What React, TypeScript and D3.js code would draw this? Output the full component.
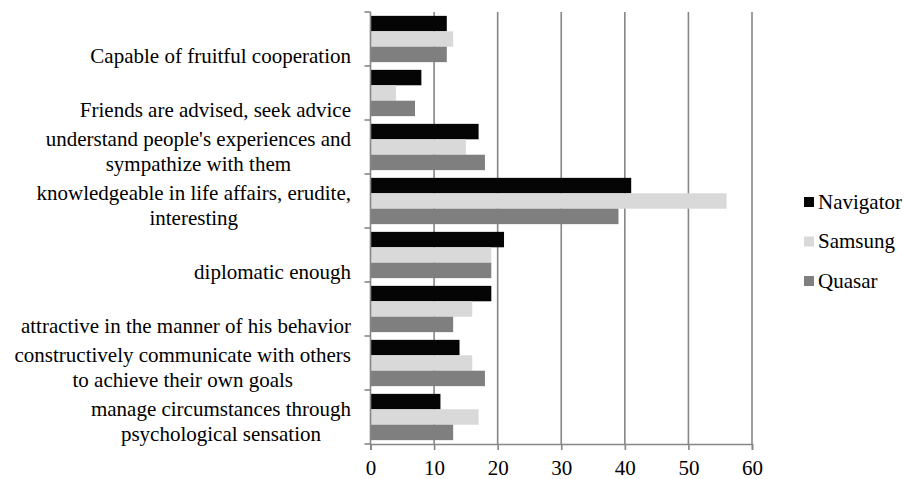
import React, { useEffect, useRef } from 'react';
import * as d3 from 'd3';

// categories top to bottom, each entry is the wrapped lines
const categories = [
  ['Capable of fruitful cooperation'],
  ['Friends are advised, seek advice'],
  ["understand people's experiences and", 'sympathize with them'],
  ['knowledgeable in life affairs, erudite,', 'interesting'],
  ['diplomatic enough'],
  ['attractive in the manner of his behavior'],
  ['constructively communicate with others', 'to achieve their own goals'],
  ['manage circumstances through', 'psychological sensation'],
];
const seriesNames = ['Navigator', 'Samsung', 'Quasar'];
const navigator = [12, 8, 17, 41, 21, 19, 14, 11];
const samsung = [13, 4, 15, 56, 19, 16, 16, 17];
const quasar = [12, 7, 18, 39, 19, 13, 18, 13];
const xTicks = [0, 10, 20, 30, 40, 50, 60];
const colors = ['#050505', '#d9d9d9', '#7f7f7f'];

const App = () => {
  const svgRef = useRef<SVGSVGElement>(null);

  useEffect(() => {
    const W = 905, H = 479;
    const left = 370.5, right = 752, top = 12, bottom = 444;
    const font = '"Liberation Serif"';
    const axisColor = '#868686';

    const svg = d3.select(svgRef.current)
      .attr('width', W)
      .attr('height', H);
    svg.selectAll('*').remove();

    const x = d3.scaleLinear().domain([0, 60]).range([left, right]);
    const y = d3.scaleBand<number>()
      .domain(d3.range(categories.length))
      .range([top, bottom]);
    const series = [navigator, samsung, quasar];
    const inner = d3.scaleBand<number>()
      .domain([0, 1, 2])
      .range([0, y.bandwidth()])
      .paddingOuter(0.25);

    // gridlines
    svg.append('g').selectAll('line')
      .data(xTicks.slice(1))
      .enter().append('line')
      .attr('x1', d => x(d)).attr('x2', d => x(d))
      .attr('y1', top).attr('y2', bottom)
      .attr('stroke', axisColor).attr('stroke-width', 1.6);

    // bars
    series.forEach((vals, si) => {
      svg.append('g').selectAll('rect')
        .data(vals)
        .enter().append('rect')
        .attr('x', x(0))
        .attr('y', (d, i) => (y(i) as number) + (inner(si) as number))
        .attr('width', d => x(d) - x(0))
        .attr('height', inner.bandwidth())
        .attr('fill', colors[si]);
    });

    // y axis line and ticks
    svg.append('line')
      .attr('x1', left).attr('x2', left)
      .attr('y1', top).attr('y2', bottom)
      .attr('stroke', axisColor).attr('stroke-width', 1.6);
    const yTickPos = d3.range(categories.length + 1).map(i => top + i * y.step());
    svg.append('g').selectAll('line')
      .data(yTickPos)
      .enter().append('line')
      .attr('x1', left - 6).attr('x2', left)
      .attr('y1', d => d).attr('y2', d => d)
      .attr('stroke', axisColor).attr('stroke-width', 1.6);

    // x axis
    const xAxis = svg.append('g')
      .attr('transform', `translate(0,${bottom})`)
      .call(d3.axisBottom(x).tickValues(xTicks).tickSize(6).tickPadding(0).tickFormat(d3.format('d')));
    xAxis.attr('font-family', null).attr('font-size', null);
    xAxis.select('.domain').attr('stroke', axisColor).attr('stroke-width', 1.6);
    xAxis.selectAll('.tick line').attr('stroke', axisColor).attr('stroke-width', 1.6);
    xAxis.selectAll('text')
      .attr('y', 31).attr('dy', null)
      .style('font-family', font).style('font-size', '21px').attr('fill', '#000');

    // category labels, block right-aligned, lines centred within block
    const labelRight = 351;
    categories.forEach((lines, i) => {
      const center = (y(i) as number) + y.bandwidth() / 2;
      const g = svg.append('g');
      const texts = lines.map((ln, li) => g.append('text')
        .style('font-family', font).style('font-size', '21px').attr('fill', '#000')
        .attr('text-anchor', 'middle')
        .attr('y', center + 24 - (lines.length - 1 - li) * 25.5)
        .text(ln));
      const maxW = d3.max(texts, t => (t.node() as SVGTextElement).getComputedTextLength()) || 0;
      texts.forEach(t => t.attr('x', labelRight - maxW / 2));
    });

    // legend
    const legend = svg.append('g');
    seriesNames.forEach((name, i) => {
      const cy = 202 + i * 39.5;
      legend.append('rect')
        .attr('x', 804).attr('y', cy - 5).attr('width', 10).attr('height', 10)
        .attr('fill', colors[i]);
      legend.append('text')
        .attr('x', 818).attr('y', cy + 6.5)
        .style('font-family', font).style('font-size', '21px').attr('fill', '#000')
        .text(name);
    });
  }, []);

  return (
    <svg ref={svgRef} style={{ position: 'absolute', left: 0, top: 0, background: '#fff' }}></svg>
  );
};

export default App;
